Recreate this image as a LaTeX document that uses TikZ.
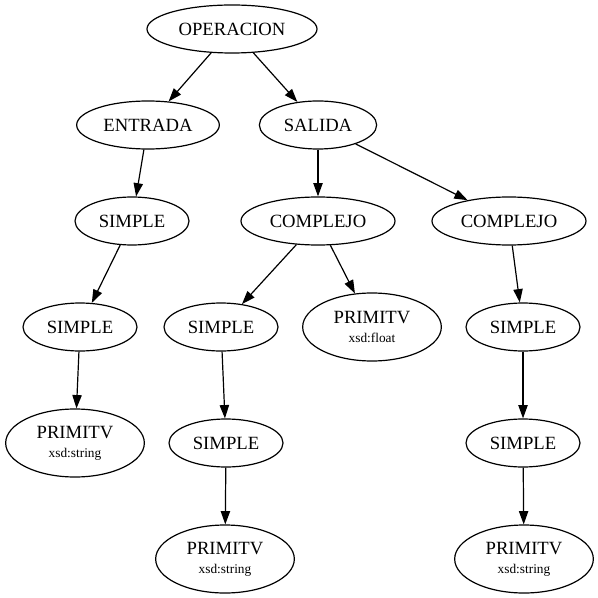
\documentclass[tikz,border=0pt]{standalone}
\usepackage{fontspec}
\setmainfont{Liberation Serif}
\usetikzlibrary{shapes.geometric,arrows.meta}
\newcommand\xsdtype[1]{{\fontsize{10}{12}\selectfont #1}}
\begin{document}
\begin{tikzpicture}[x=0.75pt,y=-0.75pt,
  oval/.style={draw,ellipse,inner sep=0pt,line width=0.9pt,
    font=\fontsize{14}{14.25}\selectfont,align=center,minimum height=36pt},
  prim/.style={oval,minimum width=104pt,minimum height=51pt},
  simple/.style={oval,minimum width=85.5pt},
  complejo/.style={oval,minimum width=115.5pt},
  edge/.style={line width=0.9pt,-{Triangle[length=10pt,width=7pt]}}]
\useasboundingbox (0,0) rectangle (598,598);

% tree of the operation
\node[oval,minimum width=127.5pt] (op) at (232,29) {OPERACION};
\node[oval,minimum width=107pt] (ent) at (148,125) {ENTRADA};
\node[oval,minimum width=88pt] (sal) at (318,125) {SALIDA};

\node[simple] (s1) at (132,221) {SIMPLE};
\node[complejo] (c1) at (318,221) {COMPLEJO};
\node[complejo] (c2) at (509,221) {COMPLEJO};

\node[simple] (s2) at (80,327) {SIMPLE};
\node[simple] (s3) at (221,327) {SIMPLE};
\node[prim] (pf) at (372,327) {PRIMITV\\\xsdtype{xsd:float}};
\node[simple] (s4) at (523,327) {SIMPLE};

\node[prim] (p1) at (75,443) {PRIMITV\\\xsdtype{xsd:string}};
\node[simple] (s5) at (226,443) {SIMPLE};
\node[simple] (s6) at (523,443) {SIMPLE};

\node[prim] (p2) at (225,559) {PRIMITV\\\xsdtype{xsd:string}};
\node[prim] (p3) at (524,559) {PRIMITV\\\xsdtype{xsd:string}};

% connectors
\draw[edge] (op) -- (ent);
\draw[edge] (op) -- (sal);
\draw[edge] (ent) -- (s1);
\draw[edge] (sal) -- (c1);
\draw[edge] (sal) -- (c2);
\draw[edge] (s1) -- (s2);
\draw[edge] (c1) -- (s3);
\draw[edge] (c1) -- (pf);
\draw[edge] (c2) -- (s4);
\draw[edge] (s2) -- (p1);
\draw[edge] (s3) -- (s5);
\draw[edge] (s4) -- (s6);
\draw[edge] (s5) -- (p2);
\draw[edge] (s6) -- (p3);
\end{tikzpicture}
\end{document}
